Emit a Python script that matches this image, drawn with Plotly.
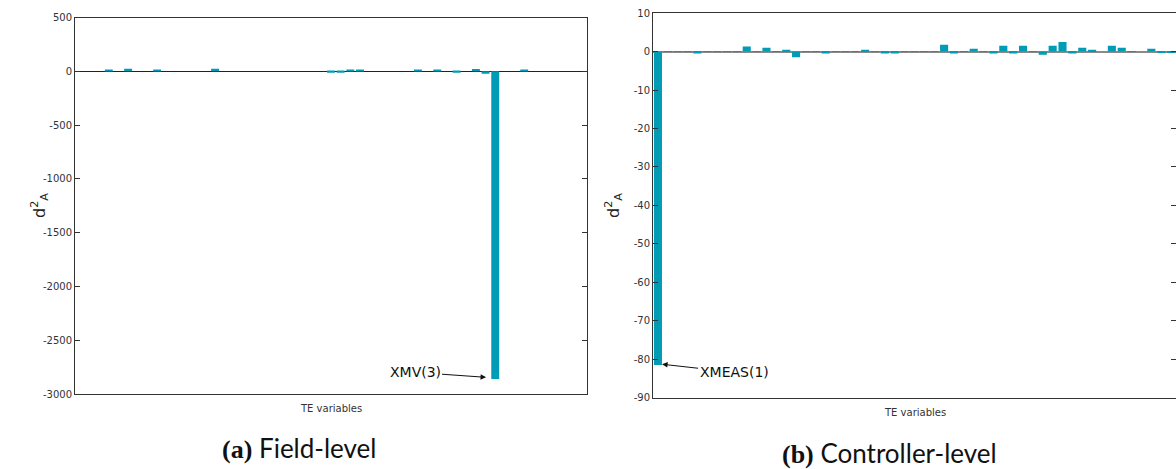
import plotly.graph_objects as go

# Tennessee Eastman variables: 41 measured (XMEAS) + 12 manipulated (XMV)
var_names = [f"XMEAS({i})" for i in range(1, 42)] + [f"XMV({i})" for i in range(1, 13)]
var_index = list(range(1, len(var_names) + 1))

# d_A^2 contribution per variable, field-level detection
field_d2 = [0, 0, 0, 15, 0, 25, 0, 0, 15, 0,
            0, 0, 0, 0, 25, 0, 0, 0, 0, 0,
            0, 0, 0, 0, 0, 0, -12, -12, 12, 12,
            0, 0, 0, 0, 0, 12, 0, 12, 0, -12,
            0, 22, -22, -2860, 0, 0, 12, 0, 0, 0,
            0, 0, 0]

# d_A^2 contribution per variable, controller-level detection
ctrl_d2 = [-81.5, -0.1, -0.1, 0.1, -0.5, -0.1, 0.1, 0.1, -0.1, 1.3,
           -0.1, 1.0, 0.1, 0.5, -1.5, -0.1, -0.1, -0.5, 0.1, 0.1,
           -0.1, 0.5, -0.1, -0.5, -0.5, -0.1, 0.1, 0.1, -0.1, 1.8,
           -0.5, 0.1, 0.7, -0.1, -0.5, 1.5, -0.5, 1.5, -0.1, -0.8,
           1.5, 2.5, -0.5, 1.0, 0.5, 0.0, 1.5, 1.0, -0.1, 0.0,
           0.7, -0.2, -0.2]

field_ticks = [-3000, -2500, -2000, -1500, -1000, -500, 0, 500]
field_ticktext = ["-3000", "-2500", "-2000", "-1500", "-1000", "-500", "0", "500"]
ctrl_ticks = [-90, -80, -70, -60, -50, -40, -30, -20, -10, 0, 10]
ctrl_ticktext = ["-90", "-80", "-70", "-60", "-50", "-40", "-30", "-20", "-10", "0", "10"]

BAR = "#009cb5"
AX = "#333333"
TICKFONT = dict(family="DejaVu Sans", size=10, color="#333333")

W, H = 1176, 469

fig = go.Figure()
fig.add_trace(go.Bar(x=var_index, y=field_d2, marker=dict(color=BAR, line=dict(width=0)),
                     xaxis="x", yaxis="y", showlegend=False))
fig.add_trace(go.Bar(x=var_index, y=ctrl_d2, marker=dict(color=BAR, line=dict(width=0)),
                     xaxis="x2", yaxis="y2", showlegend=False))

xcommon = dict(range=[0.5, len(var_index) + 0.5], showticklabels=False, ticks="",
               showgrid=False, zeroline=False, showline=True, linecolor=AX,
               linewidth=1, mirror=True, automargin=False)
ycommon = dict(showgrid=False, ticks="inside", ticklen=5, tickcolor=AX, tickwidth=1,
               showline=True, linecolor=AX, linewidth=1, mirror="ticks",
               tickfont=TICKFONT, tickmode="array", automargin=False)

fig.update_layout(
    template="none",
    width=W, height=H,
    margin=dict(l=0, r=0, t=0, b=0, pad=0, autoexpand=False),
    paper_bgcolor="white", plot_bgcolor="white",
    bargap=0.18,
    xaxis=dict(domain=[75 / W, 587 / W], anchor="y", **xcommon),
    yaxis=dict(domain=[1 - 394 / H, 1 - 17.6 / H], anchor="x", range=[-3000, 500],
               tickvals=field_ticks, ticktext=field_ticktext,
               zeroline=True, zerolinecolor="#222222", zerolinewidth=1.2, **ycommon),
    xaxis2=dict(domain=[653 / W, 1.0], anchor="y2", **xcommon),
    yaxis2=dict(domain=[1 - 397.7 / H, 1 - 13.1 / H], anchor="x2", range=[-90, 10],
                tickvals=ctrl_ticks, ticktext=ctrl_ticktext,
                zeroline=True, zerolinecolor="#8a8a8a", zerolinewidth=2, **ycommon),
)

ylab = "d<sup>2</sup><sub>A</sub>"
annots = [
    # y-axis labels
    dict(text=ylab, x=40 / W, y=1 - 206 / H, xref="paper", yref="paper", textangle=-90,
         xanchor="center", yanchor="middle", showarrow=False,
         font=dict(family="DejaVu Sans", size=16, color="#222")),
    dict(text=ylab, x=614 / W, y=1 - 206 / H, xref="paper", yref="paper", textangle=-90,
         xanchor="center", yanchor="middle", showarrow=False,
         font=dict(family="DejaVu Sans", size=16, color="#222")),
    # x-axis labels
    dict(text="TE variables", x=0.5, y=-0.018, xref="x domain", yref="y domain",
         xanchor="center", yanchor="top", showarrow=False,
         font=dict(family="DejaVu Sans", size=10, color="#333")),
    dict(text="TE variables", x=0.5, y=-0.018, xref="x2 domain", yref="y2 domain",
         xanchor="center", yanchor="top", showarrow=False,
         font=dict(family="DejaVu Sans", size=10, color="#333")),
    # captions
    dict(text="<span style='font-family:Liberation Serif'><b>(a)</b></span> Field-level",
         x=299 / W, y=1 - 448 / H, xref="paper", yref="paper", showarrow=False,
         xanchor="center", yanchor="middle", font=dict(family="Lato", size=26, color="#111")),
    dict(text="<span style='font-family:Liberation Serif'><b>(b)</b></span> Controller-level",
         x=889 / W, y=1 - 453 / H, xref="paper", yref="paper", showarrow=False,
         xanchor="center", yanchor="middle", font=dict(family="Lato", size=26, color="#111")),
]

# callouts on the dominant variable of each level
i_f = min(range(len(field_d2)), key=lambda k: field_d2[k])
i_c = min(range(len(ctrl_d2)), key=lambda k: ctrl_d2[k])
annots.append(dict(text=var_names[i_f], x=var_index[i_f] - 0.95, y=field_d2[i_f] + 15,
                   xref="x", yref="y", showarrow=True, arrowhead=2, arrowsize=1.1,
                   arrowwidth=1, arrowcolor="#111", ax=-71, ay=-5,
                   font=dict(family="DejaVu Sans", size=14, color="#111")))
annots.append(dict(text=var_names[i_c], x=var_index[i_c] + 0.42, y=ctrl_d2[i_c] + 0.2,
                   xref="x2", yref="y2", showarrow=True, arrowhead=2, arrowsize=1.1,
                   arrowwidth=1, arrowcolor="#111", ax=72, ay=8,
                   font=dict(family="DejaVu Sans", size=14, color="#111")))

fig.update_layout(annotations=annots)
fig.write_html("out.html")
